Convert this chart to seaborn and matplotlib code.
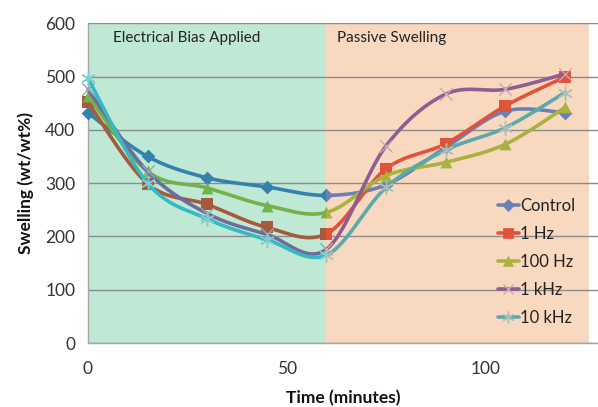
import numpy as np
import pandas as pd
import matplotlib
matplotlib.use("Agg")
import matplotlib.pyplot as plt
from matplotlib.patches import Rectangle
from matplotlib.lines import Line2D
import seaborn as sns

# ---------------- data ----------------
time_min = [0, 15, 30, 45, 60, 75, 90, 105, 120]
series_names = ["Control", "1 Hz", "100 Hz", "1 kHz", "10 kHz"]
control = [432, 350, 310, 293, 277, 297, 367, 435, 432]
hz1 = [452, 299, 260, 217, 205, 327, 374, 445, 499]
hz100 = [464, 322, 291, 258, 245, 314, 339, 373, 442]
khz1 = [476, 322, 243, 204, 176, 370, 467, 476, 505]
khz10 = [497, 300, 233, 194, 165, 292, 362, 404, 470]
values = [control, hz1, hz100, khz1, khz10]
x_ticks = [0, 50, 100]
y_ticks = [0, 100, 200, 300, 400, 500, 600]
phase_labels = ["Electrical Bias Applied", "Passive Swelling"]
phase_bounds = [0, 60, 126]

# ---------------- style ----------------
colors_green = ["#3381AC", "#A55A3C", "#73B24A", "#6B6E9C", "#36B9C0"]
colors_orange = ["#6C80B8", "#E0533A", "#A9B23E", "#8E5E92", "#5BAAAA"]
marker_light_green = ["#3381AC", "#A55A3C", "#73B24A", "#9AA6B8", "#7CCFD0"]
marker_light_orange = ["#6C80B8", "#E0533A", "#A9B23E", "#C8A8B0", "#A8C0BC"]
markers = ["D", "s", "^", "x", (6, 2, 0)]
msizes = [7, 8.5, 8.5, 9, 10]

sns.set_theme(style="white")
plt.rcParams["font.family"] = ["Lato", "DejaVu Sans"]

fig = plt.figure(figsize=(5.98, 4.07), dpi=100)
ax = fig.add_axes([0.147, 0.157, 0.853, 0.786])


def excel_smooth(xs, ys, n=30):
    xs = np.asarray(xs, float)
    ys = np.asarray(ys, float)
    px = np.concatenate([[xs[0]], xs, [xs[-1]]])
    py = np.concatenate([[ys[0]], ys, [ys[-1]]])
    ox, oy = [], []
    t = np.linspace(0, 1, n)
    for i in range(1, len(px) - 2):
        p0 = np.array([px[i], py[i]])
        p3 = np.array([px[i + 1], py[i + 1]])
        c1 = p0 + (p3 - np.array([px[i - 1], py[i - 1]])) / 6.0
        c2 = p3 - (np.array([px[i + 2], py[i + 2]]) - p0) / 6.0
        b = ((1 - t) ** 3)[:, None] * p0 + (3 * (1 - t) ** 2 * t)[:, None] * c1 \
            + (3 * (1 - t) * t ** 2)[:, None] * c2 + (t ** 3)[:, None] * p3
        if i > 1:
            b = b[1:]
        ox.extend(b[:, 0])
        oy.extend(b[:, 1])
    return np.array(ox), np.array(oy)


# background phases
bg_colors = ["#BFE9D5", "#F9D8C0"]
for i in range(2):
    ax.add_patch(Rectangle((phase_bounds[i], 0), phase_bounds[i + 1] - phase_bounds[i], 600,
                           facecolor=bg_colors[i], edgecolor="none", zorder=0.2))

clip_green = Rectangle((-20, -200), 80, 1200, transform=ax.transData)
clip_orange = Rectangle((60, -200), 100, 1200, transform=ax.transData)

for k, (name, vals) in enumerate(zip(series_names, values)):
    sx, sy = excel_smooth(time_min, vals)
    smooth_df = pd.DataFrame({"Time": sx, "Swelling": sy})
    pts_df = pd.DataFrame({"Time": time_min, "Swelling": vals})
    for cols, mcols, clip in ((colors_green, marker_light_green, clip_green),
                              (colors_orange, marker_light_orange, clip_orange)):
        n_before = len(ax.lines)
        c_before = len(ax.collections)
        sns.lineplot(data=smooth_df, x="Time", y="Swelling", ax=ax, color=cols[k],
                     linewidth=2.6, sort=False, estimator=None, zorder=3 + k * 0.1)
        line_marker = markers[k] == "x" or isinstance(markers[k], tuple)
        sns.scatterplot(data=pts_df, x="Time", y="Swelling", ax=ax, color=mcols[k],
                        marker=markers[k], s=msizes[k] ** 2,
                        linewidth=1.0 if line_marker else 0,
                        edgecolor=mcols[k], zorder=3.05 + k * 0.1)
        for ln in ax.lines[n_before:]:
            ln.set_clip_path(clip)
        for coll in ax.collections[c_before:]:
            coll.set_clip_path(clip)

# axes formatting
ax.set_xlim(0, 128.3)
ax.set_ylim(0, 600)
ax.set_xticks(x_ticks)
ax.set_yticks(y_ticks)
ax.yaxis.grid(True, color="#8C8C8C", linewidth=1.0)
ax.xaxis.grid(False)
ax.set_axisbelow(True)
for s in ["top", "right"]:
    ax.spines[s].set_visible(False)
for s in ["left", "bottom"]:
    ax.spines[s].set_color("#A6A6A6")
    ax.spines[s].set_linewidth(1.0)
ax.tick_params(axis="both", which="major", direction="out", length=5, width=1,
               color="#A6A6A6", labelsize=12.5, labelcolor="#333333", pad=4)
ax.tick_params(axis="x", pad=8)
ax.set_xlabel("Time (minutes)", fontsize=12.5, fontweight="bold", labelpad=9, color="#111111")
ax.set_ylabel("Swelling (wt/wt%)", fontsize=12.5, fontweight="bold", labelpad=8, color="#111111")

ax.text(6.3, 572, phase_labels[0], fontsize=11, va="center", ha="left", color="#222222", zorder=5)
ax.text(62.6, 572, phase_labels[1], fontsize=11, va="center", ha="left", color="#222222", zorder=5)

handles = [Line2D([0], [0], color=colors_orange[k], lw=2.6, marker=markers[k],
                  markersize=msizes[k] * 0.85, markeredgewidth=1.0 if k >= 3 else 0.5,
                  markeredgecolor=marker_light_orange[k], markerfacecolor=marker_light_orange[k])
           for k in range(len(series_names))]
leg = ax.legend(handles, series_names, loc="upper left", bbox_to_anchor=(0.79, 0.475),
                frameon=False, fontsize=12, handlelength=1.3, handletextpad=0.05,
                labelspacing=0.72, borderaxespad=0)
for t in leg.get_texts():
    t.set_color("#222222")

fig.savefig("out.png", dpi=100)
